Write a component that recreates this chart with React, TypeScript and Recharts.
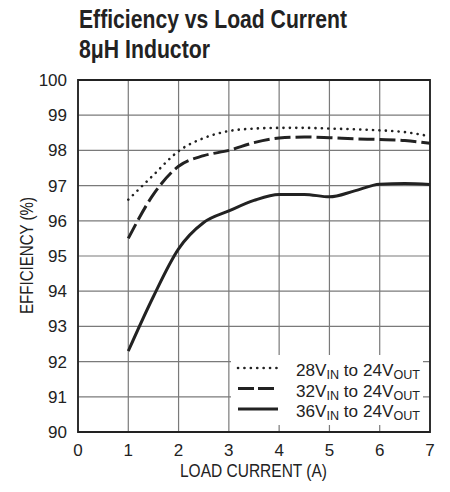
import {
  LineChart,
  Line,
  XAxis,
  YAxis,
  CartesianGrid,
  ReferenceArea,
} from 'recharts';

// load current (A) and efficiency (%)
const loadCurrent = [1, 1.5, 2, 2.5, 3, 3.5, 4, 4.5, 5, 5.5, 6, 6.5, 7];
const eff28to24 = [96.6, 97.3, 97.98, 98.35, 98.55, 98.62, 98.64, 98.64, 98.62, 98.6, 98.57, 98.52, 98.4];
const eff32to24 = [95.5, 96.75, 97.55, 97.85, 98.0, 98.22, 98.35, 98.38, 98.36, 98.33, 98.31, 98.28, 98.2];
const eff36to24 = [92.3, 93.85, 95.2, 95.95, 96.28, 96.58, 96.75, 96.75, 96.68, 96.85, 97.04, 97.06, 97.03];

const xTicks = [0, 1, 2, 3, 4, 5, 6, 7];
const yTicks = [90, 91, 92, 93, 94, 95, 96, 97, 98, 99, 100];

const titleLines = ['Efficiency vs Load Current', '8μH Inductor'];
const xLabel = 'LOAD CURRENT (A)';
const yLabel = 'EFFICIENCY (%)';
const legendItems = [
  { vin: '28', vout: '24', dash: '0.1 6.3', cap: 'round' as const, w: 2.6 },
  { vin: '32', vout: '24', dash: '16 4', cap: 'butt' as const, w: 3 },
  { vin: '36', vout: '24', dash: undefined, cap: 'butt' as const, w: 3 },
];

const rows = loadCurrent.map((c, i) => ({
  current: c,
  v28: eff28to24[i],
  v32: eff32to24[i],
  v36: eff36to24[i],
}));

const FONT = "'Liberation Sans', Arial, Helvetica, sans-serif";
const INK = '#222';

export default function App() {
  const tickStyle = { fill: INK, fontSize: 17, fontFamily: FONT };
  return (
    <div style={{ position: 'absolute', left: 0, top: 0, width: 450, height: 492, background: '#fff' }}>
      <LineChart
        width={450}
        height={492}
        data={rows}
        margin={{ top: 80, right: 20, bottom: 30, left: 18 }}
      >
        <CartesianGrid stroke="#7a7a7a" strokeWidth={1.2} />
        <XAxis
          dataKey="current"
          type="number"
          domain={[0, 7]}
          ticks={xTicks}
          height={30}
          tickSize={0}
          tickMargin={12}
          axisLine={false}
          tick={tickStyle}
          interval={0}
        />
        <YAxis
          type="number"
          domain={[90, 100]}
          ticks={yTicks}
          width={60}
          tickSize={0}
          tickMargin={11}
          axisLine={false}
          tick={tickStyle}
          interval={0}
        />
        <ReferenceArea
          x1={0}
          x2={7}
          y1={90}
          y2={100}
          fill="none"
          stroke={INK}
          strokeWidth={1.8}
          ifOverflow="visible"
        />
        <Line
          type="monotone"
          dataKey="v28"
          stroke={INK}
          strokeWidth={2.6}
          strokeDasharray="0.1 6.3"
          strokeLinecap="round"
          dot={false}
          isAnimationActive={false}
        />
        <Line
          type="monotone"
          dataKey="v32"
          stroke={INK}
          strokeWidth={3}
          strokeDasharray="16 5"
          dot={false}
          isAnimationActive={false}
        />
        <Line
          type="monotone"
          dataKey="v36"
          stroke={INK}
          strokeWidth={3}
          dot={false}
          isAnimationActive={false}
        />
      </LineChart>

      <svg
        width={450}
        height={492}
        style={{ position: 'absolute', left: 0, top: 0, pointerEvents: 'none' }}
      >
        <text x={79} y={28} fontFamily={FONT} fontWeight="bold" fontSize={25} fill={INK}
          textLength={268} lengthAdjust="spacingAndGlyphs">{titleLines[0]}</text>
        <text x={79} y={58} fontFamily={FONT} fontWeight="bold" fontSize={25} fill={INK}
          textLength={131} lengthAdjust="spacingAndGlyphs">{titleLines[1]}</text>

        <text x={253.5} y={477} textAnchor="middle" fontFamily={FONT} fontSize={18} fill={INK}
          textLength={147} lengthAdjust="spacingAndGlyphs">{xLabel}</text>
        <text transform="translate(32.5,255.5) rotate(-90)" x={0} y={0} textAnchor="middle"
          fontFamily={FONT} fontSize={18} fill={INK}
          textLength={117} lengthAdjust="spacingAndGlyphs">{yLabel}</text>

        <rect x={231} y={355} width={192} height={70} fill="#fff" />
        {legendItems.map((it, i) => {
          const cy = 368 + i * 20.5;
          return (
            <g key={it.vin}>
              <line x1={238} x2={278} y1={cy} y2={cy} stroke={INK} strokeWidth={it.w}
                strokeDasharray={it.dash} strokeLinecap={it.cap} />
              <text x={296} y={cy + 8} fontFamily={FONT} fontSize={17} fill={INK}
                textLength={124} lengthAdjust="spacingAndGlyphs">
                {it.vin}V<tspan fontSize={12.5} dy={3}>IN</tspan>
                <tspan dy={-3}> to {it.vout}V</tspan>
                <tspan fontSize={12.5} dy={3}>OUT</tspan>
              </text>
            </g>
          );
        })}
      </svg>
    </div>
  );
}
